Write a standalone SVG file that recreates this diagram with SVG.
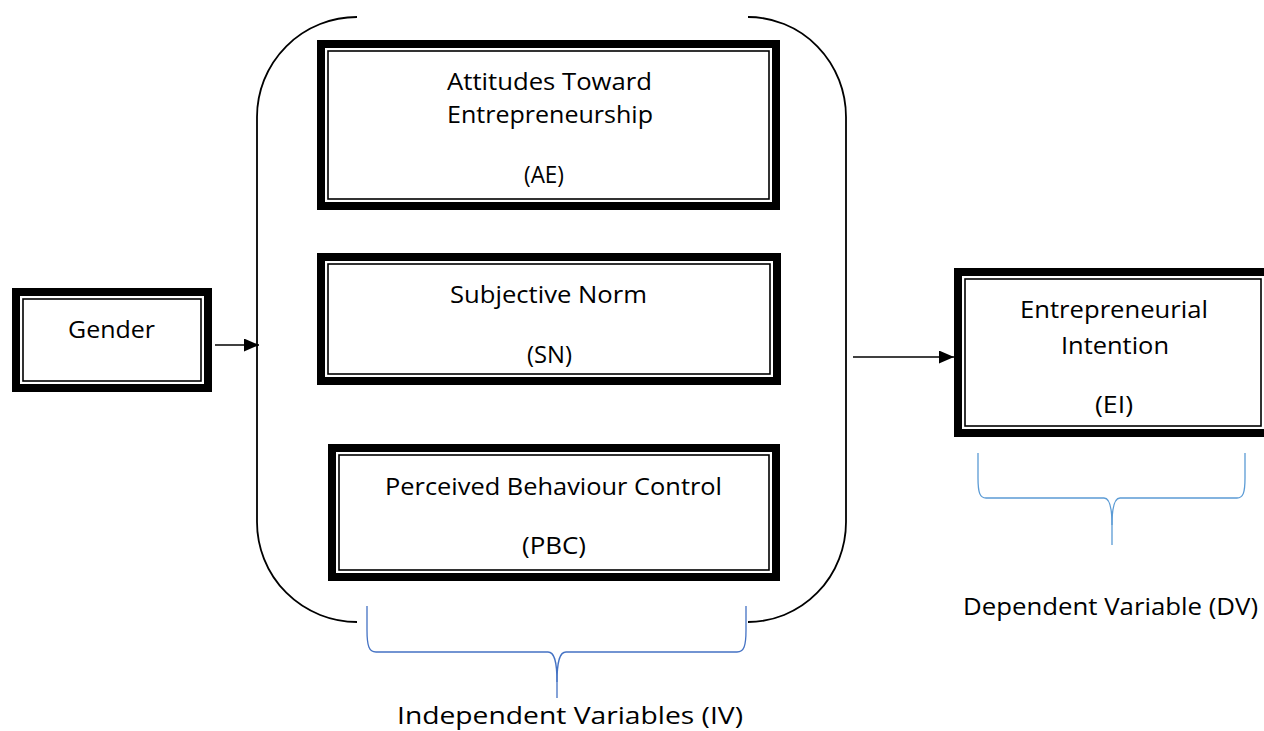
<svg xmlns="http://www.w3.org/2000/svg" width="1264" height="731" viewBox="0 0 1264 731">
<style>
.thick{fill:none;stroke:#000;stroke-width:8}
.thin{fill:none;stroke:#000;stroke-width:1.6}
.lbl{font-family:"Open Sans","Noto Sans","Liberation Sans",sans-serif;font-size:24px;fill:#000}
.conn{fill:none;stroke:#000;stroke-width:1.6}
.brk{fill:none;stroke:#000;stroke-width:1.8}
.br1{fill:none;stroke:#4472C4;stroke-width:1.3}
.br2{fill:none;stroke:#5B9BD5;stroke-width:1.3}
</style>
<defs>
<marker id="ah" markerUnits="userSpaceOnUse" markerWidth="15" markerHeight="13" refX="15" refY="6.5" orient="auto">
<path d="M0,0 L15,6.5 L0,13 Z" fill="#000"/>
</marker>
</defs>
<rect width="1264" height="731" fill="#fff"/>
<g id="bracket">
<path class="brk" d="M357,17 A100,100 0 0 0 257,117 L257,522 A100,100 0 0 0 357,622"/>
<path class="brk" d="M748,17 A98,100 0 0 1 846,117 L846,522 A98,100 0 0 1 748,622"/>
</g>
<g id="gender">
<rect class="thick" x="16" y="292" width="192" height="96"/>
<rect class="thin" x="23" y="299" width="178" height="82"/>
<text class="lbl" x="68" y="338" textLength="87" lengthAdjust="spacingAndGlyphs">Gender</text>
</g>
<g id="ae">
<rect class="thick" x="321" y="44" width="455" height="162"/>
<rect class="thin" x="328" y="51" width="441" height="148"/>
<text class="lbl" x="447" y="90" textLength="205" lengthAdjust="spacingAndGlyphs">Attitudes Toward</text>
<text class="lbl" x="447" y="123" textLength="206" lengthAdjust="spacingAndGlyphs">Entrepreneurship</text>
<text class="lbl" x="524" y="183" textLength="40" lengthAdjust="spacingAndGlyphs">(AE)</text>
</g>
<g id="sn">
<rect class="thick" x="321" y="257" width="456" height="124"/>
<rect class="thin" x="328" y="264" width="442" height="110"/>
<text class="lbl" x="450" y="303" textLength="197" lengthAdjust="spacingAndGlyphs">Subjective Norm</text>
<text class="lbl" x="527" y="363" textLength="45" lengthAdjust="spacingAndGlyphs">(SN)</text>
</g>
<g id="pbc">
<rect class="thick" x="332" y="448" width="444" height="129"/>
<rect class="thin" x="339" y="455" width="430" height="115"/>
<text class="lbl" x="385" y="495" textLength="337" lengthAdjust="spacingAndGlyphs">Perceived Behaviour Control</text>
<text class="lbl" x="522" y="554" textLength="64" lengthAdjust="spacingAndGlyphs">(PBC)</text>
</g>
<g id="ei">
<rect class="thick" x="958" y="272" width="310" height="161"/>
<rect class="thin" x="965" y="279" width="296" height="147"/>
<text class="lbl" x="1020" y="318" textLength="188" lengthAdjust="spacingAndGlyphs">Entrepreneurial</text>
<text class="lbl" x="1061" y="354" textLength="108" lengthAdjust="spacingAndGlyphs">Intention</text>
<text class="lbl" x="1095" y="413" textLength="38" lengthAdjust="spacingAndGlyphs">(EI)</text>
</g>
<g id="connectors">
<line class="conn" x1="215" y1="345" x2="259" y2="345" marker-end="url(#ah)"/>
<line class="conn" x1="853" y1="357" x2="954" y2="357" marker-end="url(#ah)"/>
</g>
<g id="iv-brace">
<path class="br1" d="M367,606 L367,630 C367,646 369,652 376,652 L548,652 C554,652 557,660 557,682 L557,698"/>
<path class="br1" d="M746,606 L746,630 C746,646 744,652 737,652 L566,652 C560,652 557,660 557,682"/>
<text class="lbl" x="397" y="724" textLength="346" lengthAdjust="spacingAndGlyphs">Independent Variables (IV)</text>
</g>
<g id="dv-brace">
<path class="br2" d="M978,453 L978,478 C978,493 980,498 986,498 L1104,498 C1109,498 1112,505 1112,525 L1112,545"/>
<path class="br2" d="M1245,453 L1245,478 C1245,493 1243,498 1237,498 L1120,498 C1115,498 1112,505 1112,525"/>
<text class="lbl" x="963" y="615" textLength="295" lengthAdjust="spacingAndGlyphs">Dependent Variable (DV)</text>
</g>
</svg>
